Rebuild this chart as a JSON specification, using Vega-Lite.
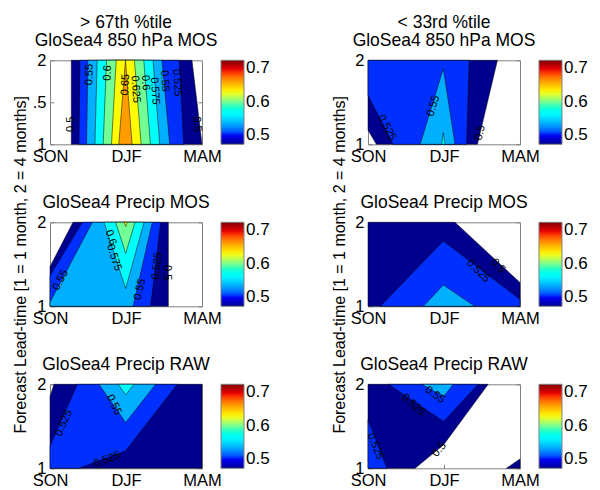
{
  "$schema": "https://vega.github.io/schema/vega-lite/v6.json",
  "padding": {"left": 12, "top": 14.3, "right": 0, "bottom": 0},
  "background": "white",
  "datasets": {
    "polys": [
      {"p":1,"id":"a","lev":0.5,"x":1.28,"lo":1,"hi":2},
      {"p":1,"id":"a","lev":0.5,"x":2.868,"lo":1,"hi":2},
      {"p":1,"id":"a","lev":0.5,"x":3,"lo":1,"hi":1},
      {"p":1,"id":"b","lev":0.525,"x":1.381,"lo":1,"hi":1},
      {"p":1,"id":"b","lev":0.525,"x":1.394,"lo":1,"hi":2},
      {"p":1,"id":"b","lev":0.525,"x":2.70,"lo":1,"hi":2},
      {"p":1,"id":"b","lev":0.525,"x":2.76,"lo":1,"hi":1},
      {"p":1,"id":"c","lev":0.55,"x":1.481,"lo":1,"hi":1},
      {"p":1,"id":"c","lev":0.55,"x":1.499,"lo":1,"hi":2},
      {"p":1,"id":"c","lev":0.55,"x":2.474,"lo":1,"hi":2},
      {"p":1,"id":"c","lev":0.55,"x":2.575,"lo":1,"hi":1},
      {"p":1,"id":"d","lev":0.575,"x":1.591,"lo":1,"hi":1},
      {"p":1,"id":"d","lev":0.575,"x":1.621,"lo":1,"hi":2},
      {"p":1,"id":"d","lev":0.575,"x":2.356,"lo":1,"hi":2},
      {"p":1,"id":"d","lev":0.575,"x":2.444,"lo":1,"hi":1},
      {"p":1,"id":"e","lev":0.6,"x":1.700,"lo":1,"hi":1},
      {"p":1,"id":"e","lev":0.6,"x":1.744,"lo":1,"hi":2},
      {"p":1,"id":"e","lev":0.6,"x":2.234,"lo":1,"hi":2},
      {"p":1,"id":"e","lev":0.6,"x":2.321,"lo":1,"hi":1},
      {"p":1,"id":"f","lev":0.625,"x":1.809,"lo":1,"hi":1},
      {"p":1,"id":"f","lev":0.625,"x":1.871,"lo":1,"hi":2},
      {"p":1,"id":"f","lev":0.625,"x":2.111,"lo":1,"hi":2},
      {"p":1,"id":"f","lev":0.625,"x":2.199,"lo":1,"hi":1},
      {"p":1,"id":"g","lev":0.65,"x":1.905,"lo":1,"hi":1},
      {"p":1,"id":"g","lev":0.65,"x":1.993,"lo":1,"hi":2},
      {"p":1,"id":"g","lev":0.65,"x":2.080,"lo":1,"hi":1},

      {"p":2,"id":"a","lev":0.5,"x":1,"lo":1.17,"hi":2},
      {"p":2,"id":"a","lev":0.5,"x":1.11,"lo":1,"hi":2},
      {"p":2,"id":"a","lev":0.5,"x":2.44,"lo":1,"hi":2},
      {"p":2,"id":"a","lev":0.5,"x":2.703,"lo":2,"hi":2},
      {"p":2,"id":"b","lev":0.525,"x":1,"lo":1.583,"hi":2},
      {"p":2,"id":"b","lev":0.525,"x":1.33,"lo":1,"hi":2},
      {"p":2,"id":"b","lev":0.525,"x":2.297,"lo":1,"hi":2},
      {"p":2,"id":"b","lev":0.525,"x":2.332,"lo":2,"hi":2},
      {"p":2,"id":"c","lev":0.55,"x":1.686,"lo":1,"hi":1},
      {"p":2,"id":"c","lev":0.55,"x":1.991,"lo":1,"hi":1.9},
      {"p":2,"id":"c","lev":0.55,"x":2.145,"lo":1,"hi":1},
      {"p":2,"id":"d","lev":0.575,"x":1.969,"lo":1,"hi":1},
      {"p":2,"id":"d","lev":0.575,"x":1.991,"lo":1,"hi":1.138},
      {"p":2,"id":"d","lev":0.575,"x":2.014,"lo":1,"hi":1},

      {"p":3,"id":"a","lev":0.5,"x":1,"lo":1,"hi":1.472},
      {"p":3,"id":"a","lev":0.5,"x":1.303,"lo":1,"hi":2},
      {"p":3,"id":"a","lev":0.5,"x":2.557,"lo":1,"hi":2},
      {"p":3,"id":"b","lev":0.525,"x":1,"lo":1,"hi":1.365},
      {"p":3,"id":"b","lev":0.525,"x":1.425,"lo":1,"hi":2},
      {"p":3,"id":"b","lev":0.525,"x":2.325,"lo":1,"hi":2},
      {"p":3,"id":"b","lev":0.525,"x":2.456,"lo":2,"hi":2},
      {"p":3,"id":"c","lev":0.55,"x":1,"lo":1,"hi":1.048},
      {"p":3,"id":"c","lev":0.55,"x":1.557,"lo":1,"hi":2},
      {"p":3,"id":"c","lev":0.55,"x":2.092,"lo":1,"hi":2},
      {"p":3,"id":"c","lev":0.55,"x":2.346,"lo":2,"hi":2},
      {"p":3,"id":"d","lev":0.575,"x":1.711,"lo":2,"hi":2},
      {"p":3,"id":"d","lev":0.575,"x":1.996,"lo":1.21,"hi":2},
      {"p":3,"id":"d","lev":0.575,"x":2.237,"lo":2,"hi":2},
      {"p":3,"id":"e","lev":0.6,"x":1.864,"lo":2,"hi":2},
      {"p":3,"id":"e","lev":0.6,"x":1.996,"lo":1.63,"hi":2},
      {"p":3,"id":"e","lev":0.6,"x":2.118,"lo":2,"hi":2},
      {"p":3,"id":"f","lev":0.625,"x":1.974,"lo":2,"hi":2},
      {"p":3,"id":"f","lev":0.625,"x":1.996,"lo":1.95,"hi":2},
      {"p":3,"id":"f","lev":0.625,"x":2.018,"lo":2,"hi":2},

      {"p":4,"id":"a","lev":0.5,"x":1,"lo":1,"hi":2},
      {"p":4,"id":"a","lev":0.5,"x":2.144,"lo":1,"hi":2},
      {"p":4,"id":"a","lev":0.5,"x":3,"lo":1,"hi":1.282},
      {"p":4,"id":"b","lev":0.525,"x":1.162,"lo":1,"hi":1},
      {"p":4,"id":"b","lev":0.525,"x":1.991,"lo":1,"hi":1.778},
      {"p":4,"id":"b","lev":0.525,"x":3,"lo":1,"hi":1.083},
      {"p":4,"id":"c","lev":0.55,"x":1.729,"lo":1,"hi":1},
      {"p":4,"id":"c","lev":0.55,"x":1.991,"lo":1,"hi":1.254},
      {"p":4,"id":"c","lev":0.55,"x":2.406,"lo":1,"hi":1},

      {"p":5,"id":"a","lev":0.5,"x":1,"lo":1,"hi":1.854},
      {"p":5,"id":"a","lev":0.5,"x":1.053,"lo":1,"hi":2},
      {"p":5,"id":"a","lev":0.5,"x":3,"lo":1,"hi":2},
      {"p":5,"id":"b","lev":0.525,"x":1,"lo":1,"hi":1.261},
      {"p":5,"id":"b","lev":0.525,"x":1.36,"lo":1,"hi":2},
      {"p":5,"id":"b","lev":0.525,"x":1.382,"lo":1,"hi":2},
      {"p":5,"id":"b","lev":0.525,"x":1.996,"lo":1.209,"hi":2},
      {"p":5,"id":"b","lev":0.525,"x":2.675,"lo":2,"hi":2},
      {"p":5,"id":"c","lev":0.55,"x":1.645,"lo":2,"hi":2},
      {"p":5,"id":"c","lev":0.55,"x":1.996,"lo":1.545,"hi":2},
      {"p":5,"id":"c","lev":0.55,"x":2.39,"lo":2,"hi":2},
      {"p":5,"id":"d","lev":0.575,"x":1.899,"lo":2,"hi":2},
      {"p":5,"id":"d","lev":0.575,"x":1.996,"lo":1.874,"hi":2},
      {"p":5,"id":"d","lev":0.575,"x":2.105,"lo":2,"hi":2},

      {"p":6,"id":"a","lev":0.5,"x":1,"lo":1,"hi":2},
      {"p":6,"id":"a","lev":0.5,"x":1.62,"lo":1,"hi":2},
      {"p":6,"id":"a","lev":0.5,"x":1.996,"lo":1.281,"hi":2},
      {"p":6,"id":"a","lev":0.5,"x":2.581,"lo":2,"hi":2},
      {"p":6,"id":"a2","lev":0.5,"x":2.821,"lo":1,"hi":1},
      {"p":6,"id":"a2","lev":0.5,"x":3,"lo":1,"hi":1.111},
      {"p":6,"id":"b","lev":0.525,"x":1,"lo":1,"hi":1.577},
      {"p":6,"id":"b","lev":0.525,"x":1.249,"lo":1,"hi":1},
      {"p":6,"id":"b2","lev":0.525,"x":1.271,"lo":2,"hi":2},
      {"p":6,"id":"b2","lev":0.525,"x":1.996,"lo":1.557,"hi":2},
      {"p":6,"id":"b2","lev":0.525,"x":2.45,"lo":2,"hi":2},
      {"p":6,"id":"c","lev":0.55,"x":1.707,"lo":2,"hi":2},
      {"p":6,"id":"c","lev":0.55,"x":1.996,"lo":1.854,"hi":2},
      {"p":6,"id":"c","lev":0.55,"x":2.122,"lo":2,"hi":2}
    ],
    "labels": [
      {"p":1,"x":1.272,"y":1.238,"t":"0.5","a":-90},
      {"p":1,"x":1.52,"y":1.83,"t":"0.55","a":-89},
      {"p":1,"x":1.76,"y":1.85,"t":"0.6","a":-88},
      {"p":1,"x":1.993,"y":1.71,"t":"0.65","a":-87},
      {"p":1,"x":2.125,"y":1.655,"t":"0.625","a":86},
      {"p":1,"x":2.256,"y":1.733,"t":"0.6","a":86},
      {"p":1,"x":2.378,"y":1.635,"t":"0.575","a":86},
      {"p":1,"x":2.509,"y":1.754,"t":"0.55","a":86},
      {"p":1,"x":2.672,"y":1.733,"t":"0.525","a":86},
      {"p":1,"x":2.934,"y":1.238,"t":"0.5","a":84},
      {"p":2,"x":1.861,"y":1.456,"t":"0.55","a":-73},
      {"p":2,"x":1.249,"y":1.198,"t":"0.525","a":63},
      {"p":2,"x":2.476,"y":1.138,"t":"0.5","a":-77},
      {"p":3,"x":1.14,"y":1.31,"t":"0.55","a":-62},
      {"p":3,"x":1.798,"y":1.817,"t":"0.6","a":72},
      {"p":3,"x":1.842,"y":1.579,"t":"0.575","a":72},
      {"p":3,"x":2.184,"y":1.202,"t":"0.55","a":-77},
      {"p":3,"x":2.412,"y":1.48,"t":"0.525","a":-84},
      {"p":3,"x":2.544,"y":1.40,"t":"0.5","a":90},
      {"p":4,"x":2.45,"y":1.42,"t":"0.525","a":45},
      {"p":4,"x":2.712,"y":1.48,"t":"0.5","a":47},
      {"p":5,"x":1.184,"y":1.538,"t":"0.525","a":-66},
      {"p":5,"x":1.842,"y":1.755,"t":"0.55","a":65},
      {"p":5,"x":1.754,"y":1.103,"t":"0.525","a":-21},
      {"p":6,"x":1.882,"y":1.874,"t":"0.55","a":35},
      {"p":6,"x":1.598,"y":1.755,"t":"0.525","a":42},
      {"p":6,"x":1.096,"y":1.261,"t":"0.525","a":68},
      {"p":6,"x":1.939,"y":1.221,"t":"0.5","a":-50}
    ]
  },
  "columns": 2,
  "spacing": {"row": 78, "column": 166},
  "bounds": "flush",
  "resolve": {"scale": {"color": "independent"}, "legend": {"color": "independent"}},
  "concat": [
    {
      "width": 152, "height": 84,
      "title": {"text": ["> 67th %tile", "GloSea4 850 hPa MOS"]},
      "layer": [
        {"data": {"name": "polys"}, "transform": [{"filter": "datum.p == 1"}],
         "mark": {"type": "area", "orient": "vertical", "stroke": "black", "strokeWidth": 0.5, "interpolate": "linear"},
         "encoding": {
           "x": {"field": "x", "type": "quantitative", "scale": {"domain": [1, 3], "nice": false, "zero": false}, "axis": {"values": [1, 2, 3], "labelExpr": "datum.value == 1 ? 'SON' : datum.value == 2 ? 'DJF' : 'MAM'", "title": null}},
           "y": {"field": "lo", "type": "quantitative", "stack": null, "scale": {"domain": [1, 2], "nice": false, "zero": false}, "axis": {"values": [1, 1.5, 2], "format": "~g", "labelExpr": "datum.value == 1.5 ? '.5' : datum.label", "title": null}},
           "y2": {"field": "hi"},
           "detail": {"field": "id", "type": "nominal"},
           "color": {"field": "lev", "type": "quantitative", "scale": {"domain": [0.5, 0.5222, 0.573, 0.6238, 0.6746, 0.7], "range": ["#00008f", "#0000ff", "#00ffff", "#ffff00", "#ff0000", "#800000"]}, "legend": {"title": null, "values": [0.5, 0.6, 0.7]}}
         }},
        {"data": {"name": "labels"}, "transform": [{"filter": "datum.p == 1"}],
         "mark": {"type": "text", "fontSize": 11, "color": "black"},
         "encoding": {
           "x": {"field": "x", "type": "quantitative", "scale": {"domain": [1, 3], "nice": false, "zero": false}, "axis": null},
           "y": {"field": "y", "type": "quantitative", "scale": {"domain": [1, 2], "nice": false, "zero": false}, "axis": null},
           "text": {"field": "t"},
           "angle": {"field": "a", "type": "quantitative", "scale": null}
         }},
        {"data": {"name": "polys"}, "transform": [{"filter": "datum.p == 1"}],
         "mark": {"type": "point", "opacity": 0},
         "encoding": {
           "x": {"field": "x", "type": "quantitative", "scale": {"domain": [1, 3], "nice": false, "zero": false}, "axis": {"orient": "top", "labels": false, "title": null, "values": [2]}},
           "y": {"field": "lo", "type": "quantitative", "scale": {"domain": [1, 2], "nice": false, "zero": false}, "axis": {"orient": "right", "labels": false, "title": null, "values": [1.5]}}
         }}
      ],
      "resolve": {"axis": {"x": "independent", "y": "independent"}}
    },
    {
      "width": 152, "height": 84,
      "title": {"text": ["< 33rd %tile", "GloSea4 850 hPa MOS"]},
      "layer": [
        {"data": {"name": "polys"}, "transform": [{"filter": "datum.p == 2"}],
         "mark": {"type": "area", "orient": "vertical", "stroke": "black", "strokeWidth": 0.5, "interpolate": "linear"},
         "encoding": {
           "x": {"field": "x", "type": "quantitative", "scale": {"domain": [1, 3], "nice": false, "zero": false}, "axis": {"values": [1, 2, 3], "labelExpr": "datum.value == 1 ? 'SON' : datum.value == 2 ? 'DJF' : 'MAM'", "title": null}},
           "y": {"field": "lo", "type": "quantitative", "stack": null, "scale": {"domain": [1, 2], "nice": false, "zero": false}, "axis": {"values": [1, 2], "format": "~g", "title": null}},
           "y2": {"field": "hi"},
           "detail": {"field": "id", "type": "nominal"},
           "color": {"field": "lev", "type": "quantitative", "scale": {"domain": [0.5, 0.5222, 0.573, 0.6238, 0.6746, 0.7], "range": ["#00008f", "#0000ff", "#00ffff", "#ffff00", "#ff0000", "#800000"]}, "legend": {"title": null, "values": [0.5, 0.6, 0.7]}}
         }},
        {"data": {"name": "labels"}, "transform": [{"filter": "datum.p == 2"}],
         "mark": {"type": "text", "fontSize": 11, "color": "black"},
         "encoding": {
           "x": {"field": "x", "type": "quantitative", "scale": {"domain": [1, 3], "nice": false, "zero": false}, "axis": null},
           "y": {"field": "y", "type": "quantitative", "scale": {"domain": [1, 2], "nice": false, "zero": false}, "axis": null},
           "text": {"field": "t"},
           "angle": {"field": "a", "type": "quantitative", "scale": null}
         }},
        {"data": {"name": "polys"}, "transform": [{"filter": "datum.p == 2"}],
         "mark": {"type": "point", "opacity": 0},
         "encoding": {
           "x": {"field": "x", "type": "quantitative", "scale": {"domain": [1, 3], "nice": false, "zero": false}, "axis": {"orient": "top", "labels": false, "title": null, "values": [2]}},
           "y": {"field": "lo", "type": "quantitative", "scale": {"domain": [1, 2], "nice": false, "zero": false}, "axis": {"orient": "right", "labels": false, "title": null, "values": [1, 2]}}
         }}
      ],
      "resolve": {"axis": {"x": "independent", "y": "independent"}}
    },
    {
      "width": 152, "height": 84,
      "title": {"text": "GloSea4 Precip MOS", "offset": 2.5, "dy": 119},
      "layer": [
        {"data": {"name": "polys"}, "transform": [{"filter": "datum.p == 3"}],
         "mark": {"type": "area", "orient": "vertical", "stroke": "black", "strokeWidth": 0.5, "interpolate": "linear"},
         "encoding": {
           "x": {"field": "x", "type": "quantitative", "scale": {"domain": [1, 3], "nice": false, "zero": false}, "axis": {"values": [1, 2, 3], "labelExpr": "datum.value == 1 ? 'SON' : datum.value == 2 ? 'DJF' : 'MAM'", "title": null}},
           "y": {"field": "lo", "type": "quantitative", "stack": null, "scale": {"domain": [1, 2], "nice": false, "zero": false}, "axis": {"values": [1, 2], "format": "~g", "title": "Forecast Lead-time [1 = 1 month, 2 = 4 months]", "titlePadding": 8}},
           "y2": {"field": "hi"},
           "detail": {"field": "id", "type": "nominal"},
           "color": {"field": "lev", "type": "quantitative", "scale": {"domain": [0.5, 0.5222, 0.573, 0.6238, 0.6746, 0.7], "range": ["#00008f", "#0000ff", "#00ffff", "#ffff00", "#ff0000", "#800000"]}, "legend": {"title": null, "values": [0.5, 0.6, 0.7]}}
         }},
        {"data": {"name": "labels"}, "transform": [{"filter": "datum.p == 3"}],
         "mark": {"type": "text", "fontSize": 11, "color": "black"},
         "encoding": {
           "x": {"field": "x", "type": "quantitative", "scale": {"domain": [1, 3], "nice": false, "zero": false}, "axis": null},
           "y": {"field": "y", "type": "quantitative", "scale": {"domain": [1, 2], "nice": false, "zero": false}, "axis": null},
           "text": {"field": "t"},
           "angle": {"field": "a", "type": "quantitative", "scale": null}
         }},
        {"data": {"name": "polys"}, "transform": [{"filter": "datum.p == 3"}],
         "mark": {"type": "point", "opacity": 0},
         "encoding": {
           "x": {"field": "x", "type": "quantitative", "scale": {"domain": [1, 3], "nice": false, "zero": false}, "axis": {"orient": "top", "labels": false, "title": null, "values": [2]}},
           "y": {"field": "lo", "type": "quantitative", "scale": {"domain": [1, 2], "nice": false, "zero": false}, "axis": {"orient": "right", "labels": false, "title": null, "values": [1, 2]}}
         }}
      ],
      "resolve": {"axis": {"x": "independent", "y": "independent"}}
    },
    {
      "width": 152, "height": 84,
      "title": {"text": "GloSea4 Precip MOS", "offset": 2.5, "dy": 119},
      "layer": [
        {"data": {"name": "polys"}, "transform": [{"filter": "datum.p == 4"}],
         "mark": {"type": "area", "orient": "vertical", "stroke": "black", "strokeWidth": 0.5, "interpolate": "linear"},
         "encoding": {
           "x": {"field": "x", "type": "quantitative", "scale": {"domain": [1, 3], "nice": false, "zero": false}, "axis": {"values": [1, 2, 3], "labelExpr": "datum.value == 1 ? 'SON' : datum.value == 2 ? 'DJF' : 'MAM'", "title": null}},
           "y": {"field": "lo", "type": "quantitative", "stack": null, "scale": {"domain": [1, 2], "nice": false, "zero": false}, "axis": {"values": [1, 2], "format": "~g", "title": "Forecast Lead-time [1 = 1 month, 2 = 4 months]", "titlePadding": 7}},
           "y2": {"field": "hi"},
           "detail": {"field": "id", "type": "nominal"},
           "color": {"field": "lev", "type": "quantitative", "scale": {"domain": [0.5, 0.5222, 0.573, 0.6238, 0.6746, 0.7], "range": ["#00008f", "#0000ff", "#00ffff", "#ffff00", "#ff0000", "#800000"]}, "legend": {"title": null, "values": [0.5, 0.6, 0.7]}}
         }},
        {"data": {"name": "labels"}, "transform": [{"filter": "datum.p == 4"}],
         "mark": {"type": "text", "fontSize": 11, "color": "black"},
         "encoding": {
           "x": {"field": "x", "type": "quantitative", "scale": {"domain": [1, 3], "nice": false, "zero": false}, "axis": null},
           "y": {"field": "y", "type": "quantitative", "scale": {"domain": [1, 2], "nice": false, "zero": false}, "axis": null},
           "text": {"field": "t"},
           "angle": {"field": "a", "type": "quantitative", "scale": null}
         }},
        {"data": {"name": "polys"}, "transform": [{"filter": "datum.p == 4"}],
         "mark": {"type": "point", "opacity": 0},
         "encoding": {
           "x": {"field": "x", "type": "quantitative", "scale": {"domain": [1, 3], "nice": false, "zero": false}, "axis": {"orient": "top", "labels": false, "title": null, "values": [2]}},
           "y": {"field": "lo", "type": "quantitative", "scale": {"domain": [1, 2], "nice": false, "zero": false}, "axis": {"orient": "right", "labels": false, "title": null, "values": [1, 2]}}
         }}
      ],
      "resolve": {"axis": {"x": "independent", "y": "independent"}}
    },
    {
      "width": 152, "height": 84,
      "title": {"text": "GloSea4 Precip RAW", "offset": 2.5},
      "layer": [
        {"data": {"name": "polys"}, "transform": [{"filter": "datum.p == 5"}],
         "mark": {"type": "area", "orient": "vertical", "stroke": "black", "strokeWidth": 0.5, "interpolate": "linear"},
         "encoding": {
           "x": {"field": "x", "type": "quantitative", "scale": {"domain": [1, 3], "nice": false, "zero": false}, "axis": {"values": [1, 2, 3], "labelExpr": "datum.value == 1 ? 'SON' : datum.value == 2 ? 'DJF' : 'MAM'", "title": null}},
           "y": {"field": "lo", "type": "quantitative", "stack": null, "scale": {"domain": [1, 2], "nice": false, "zero": false}, "axis": {"values": [1, 2], "format": "~g", "title": null}},
           "y2": {"field": "hi"},
           "detail": {"field": "id", "type": "nominal"},
           "color": {"field": "lev", "type": "quantitative", "scale": {"domain": [0.5, 0.5222, 0.573, 0.6238, 0.6746, 0.7], "range": ["#00008f", "#0000ff", "#00ffff", "#ffff00", "#ff0000", "#800000"]}, "legend": {"title": null, "values": [0.5, 0.6, 0.7]}}
         }},
        {"data": {"name": "labels"}, "transform": [{"filter": "datum.p == 5"}],
         "mark": {"type": "text", "fontSize": 11, "color": "black"},
         "encoding": {
           "x": {"field": "x", "type": "quantitative", "scale": {"domain": [1, 3], "nice": false, "zero": false}, "axis": null},
           "y": {"field": "y", "type": "quantitative", "scale": {"domain": [1, 2], "nice": false, "zero": false}, "axis": null},
           "text": {"field": "t"},
           "angle": {"field": "a", "type": "quantitative", "scale": null}
         }},
        {"data": {"name": "polys"}, "transform": [{"filter": "datum.p == 5"}],
         "mark": {"type": "point", "opacity": 0},
         "encoding": {
           "x": {"field": "x", "type": "quantitative", "scale": {"domain": [1, 3], "nice": false, "zero": false}, "axis": {"orient": "top", "labels": false, "title": null, "values": [2]}},
           "y": {"field": "lo", "type": "quantitative", "scale": {"domain": [1, 2], "nice": false, "zero": false}, "axis": {"orient": "right", "labels": false, "title": null, "values": [1, 2]}}
         }}
      ],
      "resolve": {"axis": {"x": "independent", "y": "independent"}}
    },
    {
      "width": 152, "height": 84,
      "title": {"text": "GloSea4 Precip RAW", "offset": 2.5},
      "layer": [
        {"data": {"name": "polys"}, "transform": [{"filter": "datum.p == 6"}],
         "mark": {"type": "area", "orient": "vertical", "stroke": "black", "strokeWidth": 0.5, "interpolate": "linear"},
         "encoding": {
           "x": {"field": "x", "type": "quantitative", "scale": {"domain": [1, 3], "nice": false, "zero": false}, "axis": {"values": [1, 2, 3], "labelExpr": "datum.value == 1 ? 'SON' : datum.value == 2 ? 'DJF' : 'MAM'", "title": null}},
           "y": {"field": "lo", "type": "quantitative", "stack": null, "scale": {"domain": [1, 2], "nice": false, "zero": false}, "axis": {"values": [1, 2], "format": "~g", "title": null}},
           "y2": {"field": "hi"},
           "detail": {"field": "id", "type": "nominal"},
           "color": {"field": "lev", "type": "quantitative", "scale": {"domain": [0.5, 0.5222, 0.573, 0.6238, 0.6746, 0.7], "range": ["#00008f", "#0000ff", "#00ffff", "#ffff00", "#ff0000", "#800000"]}, "legend": {"title": null, "values": [0.5, 0.6, 0.7]}}
         }},
        {"data": {"name": "labels"}, "transform": [{"filter": "datum.p == 6"}],
         "mark": {"type": "text", "fontSize": 11, "color": "black"},
         "encoding": {
           "x": {"field": "x", "type": "quantitative", "scale": {"domain": [1, 3], "nice": false, "zero": false}, "axis": null},
           "y": {"field": "y", "type": "quantitative", "scale": {"domain": [1, 2], "nice": false, "zero": false}, "axis": null},
           "text": {"field": "t"},
           "angle": {"field": "a", "type": "quantitative", "scale": null}
         }},
        {"data": {"name": "polys"}, "transform": [{"filter": "datum.p == 6"}],
         "mark": {"type": "point", "opacity": 0},
         "encoding": {
           "x": {"field": "x", "type": "quantitative", "scale": {"domain": [1, 3], "nice": false, "zero": false}, "axis": {"orient": "top", "labels": false, "title": null, "values": [2]}},
           "y": {"field": "lo", "type": "quantitative", "scale": {"domain": [1, 2], "nice": false, "zero": false}, "axis": {"orient": "right", "labels": false, "title": null, "values": [1, 2]}}
         }}
      ],
      "resolve": {"axis": {"x": "independent", "y": "independent"}}
    }
  ],
  "config": {
    "font": "Liberation Sans",
    "view": {"stroke": null},
    "axis": {"grid": false, "domainColor": "#808080", "domainWidth": 1, "tickColor": "#808080", "tickSize": -4, "labelPadding": 8, "labelColor": "black", "labelFontSize": 16.5, "labelFont": "Liberation Sans", "labelFlush": false, "labelOverlap": false, "titleFont": "Liberation Sans", "titleFontSize": 16, "titleFontWeight": "normal", "titleColor": "black", "zindex": 1},
    "legend": {"gradientLength": 84, "gradientThickness": 23, "labelFontSize": 17, "labelFont": "Liberation Sans", "labelColor": "black", "offset": 18, "padding": 0, "gradientStrokeColor": "#808080", "gradientStrokeWidth": 1, "labelOffset": 4, "labelBaseline": "middle", "labelOverlap": false, "direction": "vertical"},
    "title": {"fontSize": 17.5, "font": "Liberation Sans", "fontWeight": "normal", "color": "black", "lineHeight": 18, "offset": 2.5, "anchor": "middle"}
  }
}
